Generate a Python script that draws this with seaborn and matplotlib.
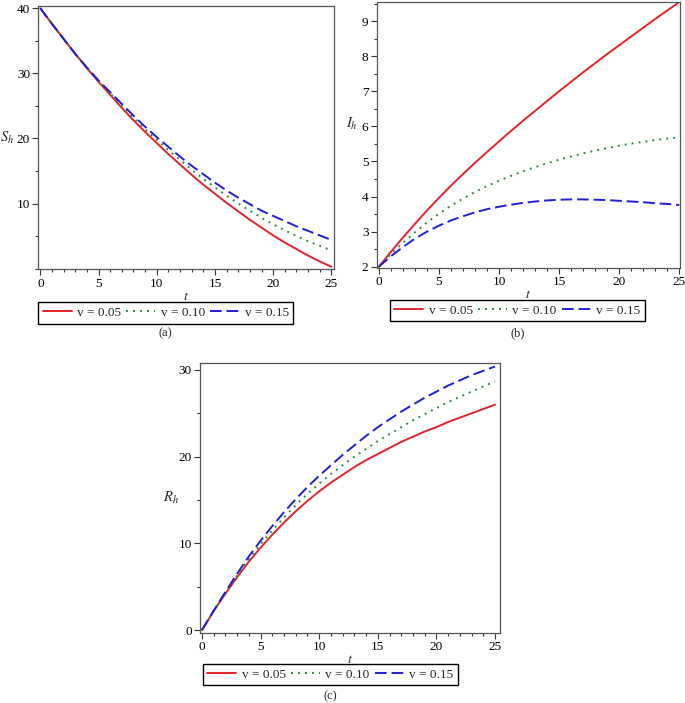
import numpy as np
import pandas as pd
import matplotlib
matplotlib.use("Agg")
import matplotlib.pyplot as plt
from matplotlib.ticker import MultipleLocator
import seaborn as sns

t = list(range(26))
labels = ["v = 0.05", "v = 0.10", "v = 0.15"]

S_red = [40, 37.6, 35.3, 33.0, 30.8, 28.7, 26.7, 24.7, 22.8, 21.0, 19.3, 17.6, 16.0, 14.4, 12.9,
         11.5, 10.1, 8.8, 7.5, 6.3, 5.1, 4.0, 3.0, 2.0, 1.1, 0.3]
S_green = [40, 37.6, 35.3, 33.0, 30.9, 28.8, 26.9, 25.0, 23.2, 21.4, 19.8, 18.2, 16.7, 15.2, 13.8,
           12.5, 11.2, 10.0, 8.9, 7.8, 6.8, 5.9, 5.0, 4.2, 3.5, 2.8]
S_blue = [40, 37.6, 35.3, 33.0, 30.9, 28.9, 27.1, 25.3, 23.5, 21.8, 20.2, 18.7, 17.2, 15.8, 14.5,
          13.2, 12.0, 10.9, 9.9, 8.9, 8.1, 7.3, 6.5, 5.8, 5.1, 4.4]

I_red = [2.0, 2.42, 2.83, 3.22, 3.6, 3.96, 4.31, 4.64, 4.96, 5.27, 5.57, 5.87, 6.16, 6.44, 6.72,
         7.0, 7.27, 7.54, 7.8, 8.06, 8.31, 8.56, 8.81, 9.06, 9.3, 9.54]
I_green = [2.0, 2.36, 2.68, 2.98, 3.26, 3.51, 3.74, 3.94, 4.13, 4.3, 4.45, 4.59, 4.72, 4.84, 4.95,
           5.05, 5.14, 5.23, 5.31, 5.38, 5.45, 5.51, 5.56, 5.61, 5.65, 5.69]
I_blue = [2.0, 2.3, 2.56, 2.8, 3.0, 3.17, 3.32, 3.44, 3.55, 3.64, 3.71, 3.77, 3.82, 3.86, 3.89,
          3.91, 3.92, 3.92, 3.91, 3.9, 3.88, 3.86, 3.84, 3.81, 3.79, 3.76]

R_red = [0, 2.2, 4.2, 6.1, 7.9, 9.5, 11.0, 12.4, 13.7, 14.9, 16.0, 17.0, 17.9, 18.8, 19.6,
         20.3, 21.0, 21.7, 22.3, 22.9, 23.4, 24.0, 24.5, 25.0, 25.5, 26.0]
R_green = [0, 2.2, 4.3, 6.3, 8.2, 9.9, 11.5, 13.0, 14.4, 15.7, 16.9, 18.0, 19.0, 20.0, 20.9,
           21.8, 22.6, 23.4, 24.2, 24.9, 25.6, 26.3, 26.9, 27.5, 28.1, 28.7]
R_blue = [0, 2.25, 4.4, 6.5, 8.5, 10.3, 12.0, 13.6, 15.1, 16.5, 17.8, 19.0, 20.2, 21.3, 22.4,
          23.4, 24.3, 25.2, 26.0, 26.8, 27.5, 28.2, 28.8, 29.4, 29.9, 30.4]

sns.set_theme(style="white")
plt.rcParams["font.family"] = ["Liberation Serif", "DejaVu Serif"]
plt.rcParams["mathtext.fontset"] = "stix"

colors = {labels[0]: "#e3242b", labels[1]: "#2e8b3a", labels[2]: "#1f1fd6"}
dashes = {labels[0]: "", labels[1]: (1, 2.6), labels[2]: (6, 2.5)}

fig = plt.figure(figsize=(6.85, 7.03), dpi=100)

panels = [
    dict(rect=[0.056, 0.617, 0.432, 0.374], data=[S_red, S_green, S_blue], ylab="$S_h$",
         ylim=(-0.1, 40.3), xlim=(-0.17, 25.25), ymin=5, yticks=[10, 20, 30, 40],
         labxy=(-0.105, 0.50), leg=(0.242, 0.555), cap="(a)", capxy=(0.241, 0.526)),
    dict(rect=[0.550, 0.619, 0.443, 0.378], data=[I_red, I_green, I_blue], ylab="$I_h$",
         ylim=(1.97, 9.54), xlim=(-0.17, 25.08), ymin=0.5, yticks=list(range(2, 10)),
         labxy=(-0.082, 0.54), leg=(0.755, 0.558), cap="(b)", capxy=(0.756, 0.526)),
    dict(rect=[0.292, 0.0996, 0.438, 0.384], data=[R_red, R_green, R_blue], ylab="$R_h$",
         ylim=(-0.34, 30.8), xlim=(-0.17, 25.43), ymin=5, yticks=[0, 10, 20, 30],
         labxy=(-0.097, 0.50), leg=(0.482, 0.0405), cap="(c)", capxy=(0.482, 0.010)),
]

for p in panels:
    ax = fig.add_axes(p["rect"])
    df = pd.DataFrame({
        "t": t * 3,
        "val": p["data"][0] + p["data"][1] + p["data"][2],
        "v": [labels[0]] * 26 + [labels[1]] * 26 + [labels[2]] * 26,
    })
    sns.lineplot(data=df, x="t", y="val", hue="v", style="v", palette=colors, dashes=dashes,
                 linewidth=1.4, ax=ax, legend=True)
    handles, labs = ax.get_legend_handles_labels()
    ax.get_legend().remove()
    ax.set_xlim(*p["xlim"])
    ax.set_ylim(*p["ylim"])
    ax.set_xticks([0, 5, 10, 15, 20, 25])
    ax.xaxis.set_minor_locator(MultipleLocator(1))
    ax.set_yticks(p["yticks"])
    ax.yaxis.set_minor_locator(MultipleLocator(p["ymin"]))
    ax.tick_params(which="both", direction="out", bottom=True, left=True, labelsize=9.5,
                   colors="#333333", labelcolor="black")
    ax.tick_params(which="major", length=4, width=0.8, pad=2)
    ax.tick_params(which="minor", length=2.5, width=0.8)
    for s in ax.spines.values():
        s.set_color("#555555")
        s.set_linewidth(0.9)
    ax.set_xlabel("$t$", fontsize=10, labelpad=0)
    ax.set_ylabel(p["ylab"], fontsize=10.5, rotation=0, ha="center", va="center")
    ax.yaxis.set_label_coords(*p["labxy"])
    fig.legend(handles, labs, loc="center", bbox_to_anchor=p["leg"], ncol=3, fontsize=9.5,
               frameon=True, fancybox=False, edgecolor="black", framealpha=1,
               handlelength=2.2, handletextpad=0.4, columnspacing=0.4,
               borderpad=0.35, borderaxespad=0)
    fig.text(p["capxy"][0], p["capxy"][1], p["cap"], ha="center", va="center", fontsize=9)

fig.savefig("out.png", dpi=100)
